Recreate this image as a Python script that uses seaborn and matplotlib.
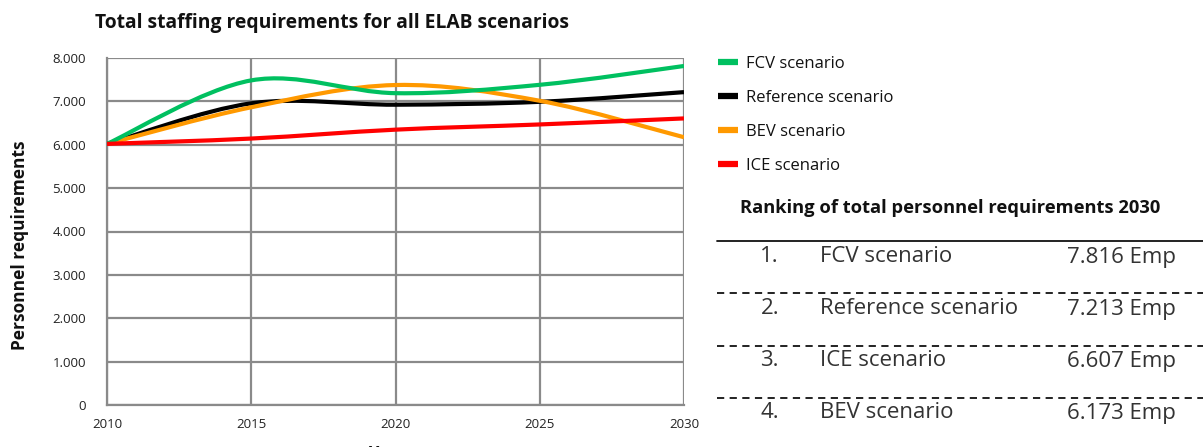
import numpy as np
import pandas as pd
import matplotlib
matplotlib.use("Agg")
import matplotlib.pyplot as plt
import seaborn as sns
from matplotlib.path import Path
from matplotlib.patches import PathPatch
from matplotlib.lines import Line2D
from matplotlib.ticker import FuncFormatter

# values
years = [2010, 2015, 2020, 2025, 2030]
fcv = [6020, 7484, 7189, 7382, 7816]
reference = [6020, 6955, 6923, 6990, 7213]
bev = [6020, 6864, 7377, 7014, 6173]
ice = [6020, 6143, 6348, 6468, 6607]

# legend order and colours
scenario_names = ["FCV scenario", "Reference scenario", "BEV scenario", "ICE scenario"]
scenario_colors = ["#00c060", "#000000", "#ff9900", "#ff0000"]
# drawing order (later lines on top)
draw_order = ["Reference scenario", "BEV scenario", "FCV scenario", "ICE scenario"]

rank_labels = ["1.", "2.", "3.", "4."]
rank_names = ["FCV scenario", "Reference scenario", "ICE scenario", "BEV scenario"]
rank_values = [7816, 7213, 6607, 6173]

y_ticks = [0, 1000, 2000, 3000, 4000, 5000, 6000, 7000, 8000]
x_ticks = [2010, 2015, 2020, 2025, 2030]

series = dict(zip(scenario_names, [fcv, reference, bev, ice]))
df = pd.DataFrame(
    [(name, yr, val) for name in draw_order for yr, val in zip(years, series[name])],
    columns=["scenario", "year", "staff"],
)
palette = dict(zip(scenario_names, scenario_colors))


def thousands(v, pos=None):
    return f"{int(v):,}".replace(",", ".")


def smooth_path(xy):
    """Bezier path through the points, like a smoothed Excel line"""
    x, y = xy[:, 0], xy[:, 1]
    n = len(x)
    verts = [(x[0], y[0])]
    codes = [Path.MOVETO]
    for i in range(n - 1):
        xp, yp = (x[i - 1], y[i - 1]) if i > 0 else (x[i], y[i])
        xn, yn = (x[i + 2], y[i + 2]) if i + 2 < n else (x[i + 1], y[i + 1])
        c1 = (x[i] + (x[i + 1] - xp) / 6, y[i] + (y[i + 1] - yp) / 6)
        c2 = (x[i + 1] - (xn - x[i]) / 6, y[i + 1] - (yn - y[i]) / 6)
        verts += [c1, c2, (x[i + 1], y[i + 1])]
        codes += [Path.CURVE4] * 3
    return Path(verts, codes)


sns.set_theme(style="white")
plt.rcParams["font.family"] = ["Open Sans", "DejaVu Sans"]

fig = plt.figure(figsize=(12.03, 4.47), dpi=100)
ax = fig.add_axes([107 / 1203, 1 - 405 / 447, 577 / 1203, 347 / 447])

sns.lineplot(data=df, x="year", y="staff", hue="scenario", palette=palette,
             hue_order=draw_order, legend=False, ax=ax, linewidth=3)

# turn the straight seaborn lines into smooth curves
for line in list(ax.lines):
    patch = PathPatch(smooth_path(line.get_xydata()), fill=False,
                      edgecolor=line.get_color(), linewidth=3, zorder=3)
    ax.add_patch(patch)
    line.set_visible(False)

ax.set_xlim(2010, 2030)
ax.set_ylim(0, 8000)
ax.set_xticks(x_ticks)
ax.set_yticks(y_ticks)
ax.yaxis.set_major_formatter(FuncFormatter(thousands))
ax.grid(True, color="#8a8a8a", linewidth=1.6)
ax.set_axisbelow(True)
for side in ["top", "right"]:
    ax.spines[side].set_visible(False)
for side in ["left", "bottom"]:
    ax.spines[side].set_color("#8a8a8a")
    ax.spines[side].set_linewidth(1.6)
ax.tick_params(axis="both", which="major", direction="out", length=3,
               width=1.6, color="#8a8a8a", labelsize=9.5, labelcolor="#222222")
ax.tick_params(axis="y", pad=12)
ax.tick_params(axis="x", pad=6)

ax.set_ylabel("Personnel requirements", fontsize=12.5, fontweight="bold",
              color="#111111")
ax.yaxis.set_label_coords(-0.135, 0.46)
ax.set_xlabel("Year", fontsize=12, fontweight="bold", color="#111111")
ax.xaxis.set_label_coords(0.485, -0.115)
ax.xaxis.label.set_va("top")

fig.text(95 / 1203, 1 - 23 / 447, "Total staffing requirements for all ELAB scenarios",
         fontsize=13.9, fontweight="bold", color="#111111", va="center", ha="left")

handles = [Line2D([], [], color=c, linewidth=4.5, solid_capstyle="butt")
           for c in scenario_colors]
fig.legend(handles, scenario_names, loc="upper left",
           bbox_to_anchor=(703 / 1203, 1 - 41 / 447), frameon=False,
           fontsize=12, handlelength=1.2, handletextpad=0.48,
           labelspacing=1.07, labelcolor="#111111")

# ranking table
fig.text(740 / 1203, 1 - 208 / 447, "Ranking of total personnel requirements 2030",
         fontsize=13.2, fontweight="bold", color="#111111", va="center", ha="left")
row_y = [257, 309, 361, 413]
sep_y = [241, 293, 346, 398]
for i, yy in enumerate(sep_y):
    fig.add_artist(Line2D([717 / 1203, 1.0], [1 - yy / 447] * 2,
                          color="#111111", linewidth=1.3,
                          linestyle="-" if i == 0 else (0, (4, 3))))
for lab, name, val, yy in zip(rank_labels, rank_names, rank_values, row_y):
    fy = 1 - yy / 447
    fig.text(779 / 1203, fy, lab, fontsize=16, color="#333333", ha="right", va="center")
    fig.text(820 / 1203, fy, name, fontsize=16, color="#333333", ha="left", va="center")
    fig.text(1176 / 1203, fy, f"{thousands(val)} Emp", fontsize=16, color="#333333",
             ha="right", va="center")

fig.savefig("out.png", dpi=100)
